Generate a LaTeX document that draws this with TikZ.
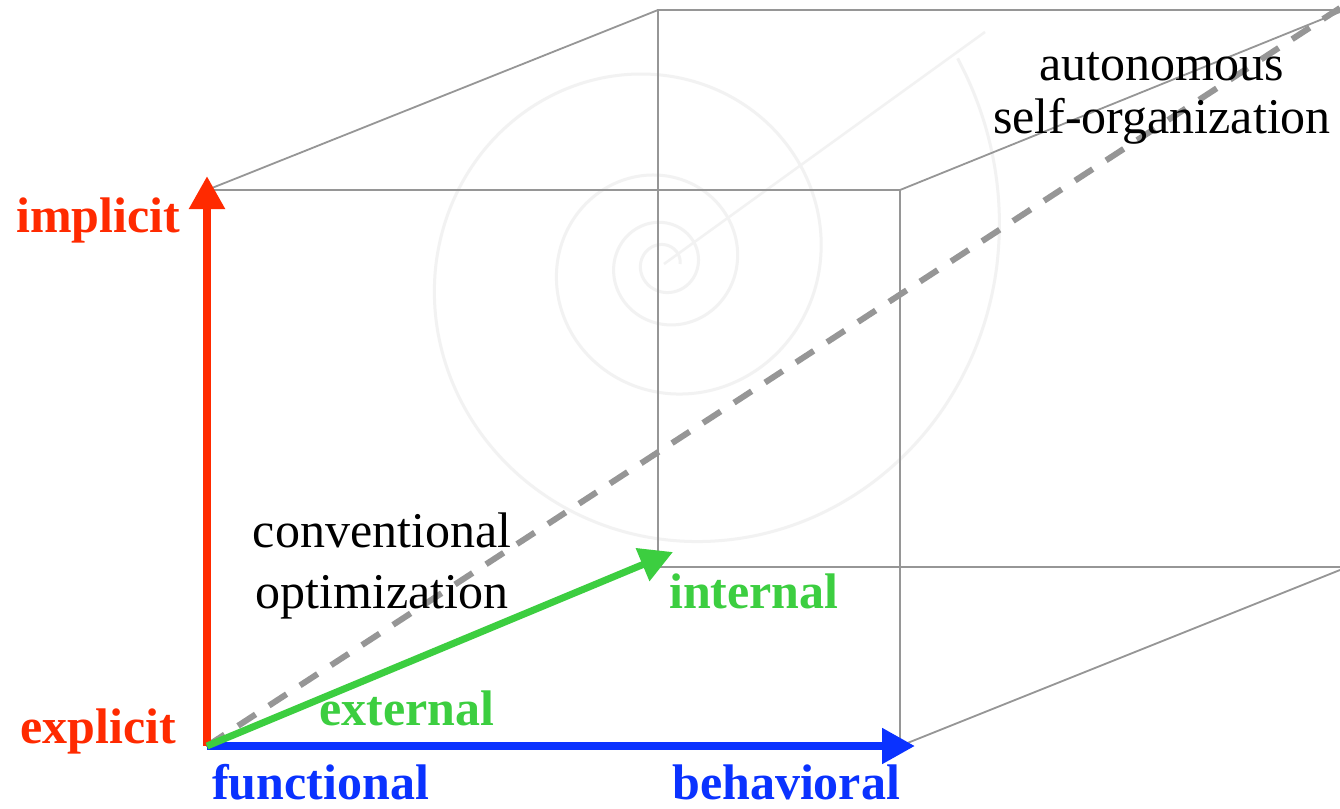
\documentclass[tikz,border=0pt]{standalone}
\usepackage{fontspec}
\setmainfont{Liberation Serif}
\usetikzlibrary{arrows.meta}
\definecolor{axred}{RGB}{255,42,0}
\definecolor{axblue}{RGB}{10,50,255}
\definecolor{axgreen}{RGB}{60,206,64}
\definecolor{edgegray}{RGB}{150,150,150}
\definecolor{faint}{RGB}{242,242,242}
\begin{document}
\begin{tikzpicture}[x=1pt,y=-1pt,
  edge/.style={draw=edgegray, line width=1.8pt},
  axisarrow/.style={line width=#1, -{Triangle[width=34pt,length=33pt]}},
  lab/.style={inner sep=0pt, font=\fontsize{50}{60}\selectfont},
  blab/.style={inner sep=0pt, font=\fontsize{50}{60}\selectfont\bfseries}]
\useasboundingbox (0,0) rectangle (1340,808);
\fill[white] (0,0) rectangle (1340,808);

% faint background spiral
\draw[faint, line width=3pt] plot[domain=-35:1440, samples=500, smooth]
  ({664 + 333*exp(-0.0021*\x)*cos(\x)}, {264 + 333*exp(-0.0021*\x)*sin(\x)});
\coordinate (eye) at (664,264);
\coordinate (eyeEnd) at (985,32);
\draw[faint, line width=2.5pt] (eye) -- (eyeEnd);

% cube corners
\coordinate (FBL) at (207,746);
\coordinate (FBR) at (900,746);
\coordinate (FTR) at (900,190);
\coordinate (FTL) at (207,190);
\coordinate (BTL) at (658,10);
\coordinate (BTR) at (1340,10);
\coordinate (BBL) at (658,567);
\coordinate (BBR) at (1340,567);
\coordinate (BTRd) at (1340,12);
\coordinate (BBRd) at (1340,570);

\draw[edge] (FBL) -- (FTL) -- (FTR) -- (FBR) -- cycle;
\draw[edge] (BTR) -- (BTL) -- (BBL) -- (BBR);
\draw[edge] (FTL) -- (BTL);
\draw[edge] (FTR) -- (BTRd);
\draw[edge] (FBR) -- (BBRd);

% dashed diagonal
\coordinate (Dend) at (1340,8);
\draw[edgegray, line width=6pt, dash pattern=on 21pt off 16pt] (FBL) -- (Dend);

% axes
\coordinate (Ttop) at (207,176);
\coordinate (Tright) at (915,746);
\coordinate (Tin) at (673,552);
\draw[axred, axisarrow=8.5pt] (FBL) -- (Ttop);
\draw[axblue, axisarrow=8pt] (FBL) -- (Tright);
\draw[axgreen, axisarrow=7pt] (FBL) -- (Tin);

% labels
\node[blab, text=axred, anchor=base west] (implicit) at (16,232) {implicit};
\node[blab, text=axred, anchor=base west] (explicit) at (20,743) {explicit};
\node[blab, text=axblue, anchor=base west] (functional) at (212,799) {functional};
\node[blab, text=axblue, anchor=base west] (behavioral) at (672,799) {behavioral};
\node[blab, text=axgreen, anchor=base west] (external) at (319,725) {external};
\node[blab, text=axgreen, anchor=base west] (internal) at (669,608) {internal};
\node[lab, anchor=base] (conv) at (382,547) {conventional};
\node[lab, anchor=base] (opt) at (382,608) {optimization};
\node[lab, anchor=base] (auto) at (1162,80) {autonomous};
\node[lab, anchor=base] (self) at (1162,133) {self-organization};
\end{tikzpicture}
\end{document}
